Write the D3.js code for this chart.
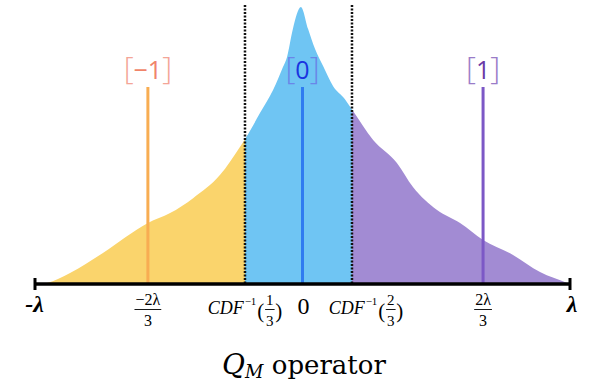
<!DOCTYPE html>
<html lang="en">
  <head>
    <meta charset="UTF-8" />
    <title>Q_M operator</title>
    <style>
      body { margin: 0; background: #fff; }
      svg { display: block; }
      .serif { font-family: "Liberation Serif", "DejaVu Serif", serif; }
    </style>
  </head>
  <body>
    <svg width="592" height="392"></svg>

    <script src="https://cdn.jsdelivr.net/npm/d3@7"></script>

    <script>
      // density curve (x in units of lambda, y relative to peak)
      const densityX = [-0.981, -0.955, -0.869, -0.746, -0.578, -0.495, -0.409, -0.308, -0.234, -0.215,
        -0.159, -0.110, -0.073, -0.058, -0.036, -0.006, 0.021, 0.047, 0.077, 0.114, 0.158, 0.185,
        0.264, 0.353, 0.413, 0.503, 0.589, 0.675, 0.787, 0.888, 0.989, 1.0];
      const densityY = [0, 0.004, 0.040, 0.112, 0.220, 0.256, 0.310, 0.394, 0.495, 0.523,
        0.617, 0.700, 0.783, 0.819, 0.921, 1.0, 0.921, 0.848, 0.787, 0.715, 0.668, 0.630,
        0.520, 0.437, 0.350, 0.267, 0.220, 0.159, 0.105, 0.043, 0.004, 0];

      // CDF^-1(1/3) and CDF^-1(2/3)
      const cutPoints = [-0.215, 0.185];
      // quantisation levels as drawn
      const levels = [-0.578, 0, 0.675];
      const levelNames = ["\u22121", "0", "1"];
      const regionColors = ["#fad46c", "#6fc5f3", "#a28bd3"];
      const levelColors = ["#f8ad52", "#2f7cf0", "#7c58c6"];
      const labelColors = ["#f0846a", "#1a35e0", "#6a3aa6"];
      const bracketColors = ["#f4a597", "#6a86e8", "#9a7cc8"];

      const svg = d3.select("svg");
      const x = d3.scaleLinear().domain([-1, 1]).range([35, 570]);
      const y = d3.scaleLinear().domain([0, 1]).range([284, 7]);

      const pts = densityX.map((d, i) => [d, densityY[i]]);
      const area = d3.area()
        .x((d) => x(d[0]))
        .y0(y(0))
        .y1((d) => y(d[1]))
        .curve(d3.curveMonotoneX);

      // split the area into three parts with clip rects
      const bounds = [-1, cutPoints[0], cutPoints[1], 1];
      const defs = svg.append("defs");
      regionColors.forEach((c, i) => {
        defs.append("clipPath").attr("id", "clip" + i)
          .append("rect")
          .attr("x", x(bounds[i]))
          .attr("y", 0)
          .attr("width", x(bounds[i + 1]) - x(bounds[i]))
          .attr("height", 400);
        svg.append("path")
          .datum(pts)
          .attr("d", area)
          .attr("fill", c)
          .attr("clip-path", "url(#clip" + i + ")");
      });

      // dotted lines at the cut points
      svg.selectAll(".cut")
        .data(cutPoints)
        .enter()
        .append("line")
        .attr("x1", (d) => x(d))
        .attr("x2", (d) => x(d))
        .attr("y1", 5)
        .attr("y2", y(0))
        .attr("stroke", "#111")
        .attr("stroke-width", 2.5)
        .attr("stroke-dasharray", "2,1.5");

      // level lines
      svg.selectAll(".level")
        .data(levels)
        .enter()
        .append("line")
        .attr("x1", (d) => x(d))
        .attr("x2", (d) => x(d))
        .attr("y1", 87)
        .attr("y2", y(0))
        .attr("stroke", (d, i) => levelColors[i])
        .attr("stroke-width", 3);

      // [level] labels
      levels.forEach((d, i) => {
        const t = svg.append("text")
          .attr("x", x(d))
          .attr("y", 79)
          .attr("text-anchor", "middle")
          .style("font-family", "'Open Sans', 'DejaVu Sans', sans-serif")
          .style("font-size", "25px");
        t.append("tspan").attr("fill", bracketColors[i]).style("font-size", "31px").style("font-weight", 300).text("[");
        t.append("tspan").attr("fill", labelColors[i]).text(levelNames[i]);
        t.append("tspan").attr("fill", bracketColors[i]).style("font-size", "31px").style("font-weight", 300).text("]");
      });

      // axis line with end ticks
      svg.append("line")
        .attr("x1", x(-1)).attr("x2", x(1))
        .attr("y1", y(0)).attr("y2", y(0))
        .attr("stroke", "#000").attr("stroke-width", 3.5);
      svg.selectAll(".endtick")
        .data([-1, 1])
        .enter()
        .append("line")
        .attr("x1", (d) => x(d)).attr("x2", (d) => x(d))
        .attr("y1", y(0) - 6).attr("y2", y(0) + 6)
        .attr("stroke", "#000").attr("stroke-width", 3);

      const labels = svg.append("g").attr("class", "serif");

      // small stacked fraction, returns its width
      function fraction(g, x0, num, den, size) {
        const n = g.append("text").attr("x", x0).attr("y", 305).attr("text-anchor", "middle")
          .style("font-size", size + "px").text(num);
        const dd = g.append("text").attr("x", x0).attr("y", 326).attr("text-anchor", "middle")
          .style("font-size", size + "px").text(den);
        const w = Math.max(n.node().getComputedTextLength(), dd.node().getComputedTextLength()) + 2;
        g.append("line").attr("x1", x0 - w / 2).attr("x2", x0 + w / 2)
          .attr("y1", 309.5).attr("y2", 309.5).attr("stroke", "#000").attr("stroke-width", 0.9);
        return w;
      }

      // +-lambda ends
      labels.append("text").attr("x", x(-1) + 9).attr("y", 312).attr("text-anchor", "end")
        .style("font-size", "24px").style("font-style", "italic").style("font-weight", "bold").text("-\u03bb");
      labels.append("text").attr("x", x(1) + 2).attr("y", 312).attr("text-anchor", "middle")
        .style("font-size", "24px").style("font-style", "italic").style("font-weight", "bold").text("\u03bb");
      labels.append("text").attr("x", x(0) + 1).attr("y", 314).attr("text-anchor", "middle")
        .style("font-size", "24px").text("0");

      // -2lambda/3 and 2lambda/3
      fraction(labels.append("g"), x(levels[0]), "\u22122\u03bb", "3", 16);
      fraction(labels.append("g"), x(levels[2]), "2\u03bb", "3", 16);

      // CDF^-1(k/3) labels
      function cdfLabel(cx, num) {
        const g = labels.append("g");
        let cur = 0;
        const put = (txt, size, yy, italic) => {
          const t = g.append("text").attr("x", cur).attr("y", yy)
            .style("font-size", size + "px").style("font-style", italic ? "italic" : "normal").text(txt);
          cur += t.node().getComputedTextLength();
          return t;
        };
        put("CDF", 18, 314, true);
        cur += 1;
        put("\u22121", 11, 305, false);
        cur += 1;
        put("(", 21, 318, false);
        fraction(g, cur + 5.5, num, "3", 15);
        cur += 11;
        put(")", 21, 318, false);
        g.attr("transform", "translate(" + (cx - cur / 2) + ",0)");
      }
      cdfLabel(x(cutPoints[0]), "1");
      cdfLabel(x(cutPoints[1]) + 14, "2");

      // title
      const title = svg.append("text").attr("x", 304).attr("y", 374).attr("text-anchor", "middle")
        .style("font-family", "'DejaVu Serif', serif")
        .style("font-size", "26px");
      title.append("tspan").style("font-style", "italic").style("font-size", "28px").text("Q");
      title.append("tspan").style("font-style", "italic").style("font-size", "18px").attr("dy", 4).text("M");
      title.append("tspan").attr("dy", -4).text(" operator");
    </script>
  </body>
</html>
